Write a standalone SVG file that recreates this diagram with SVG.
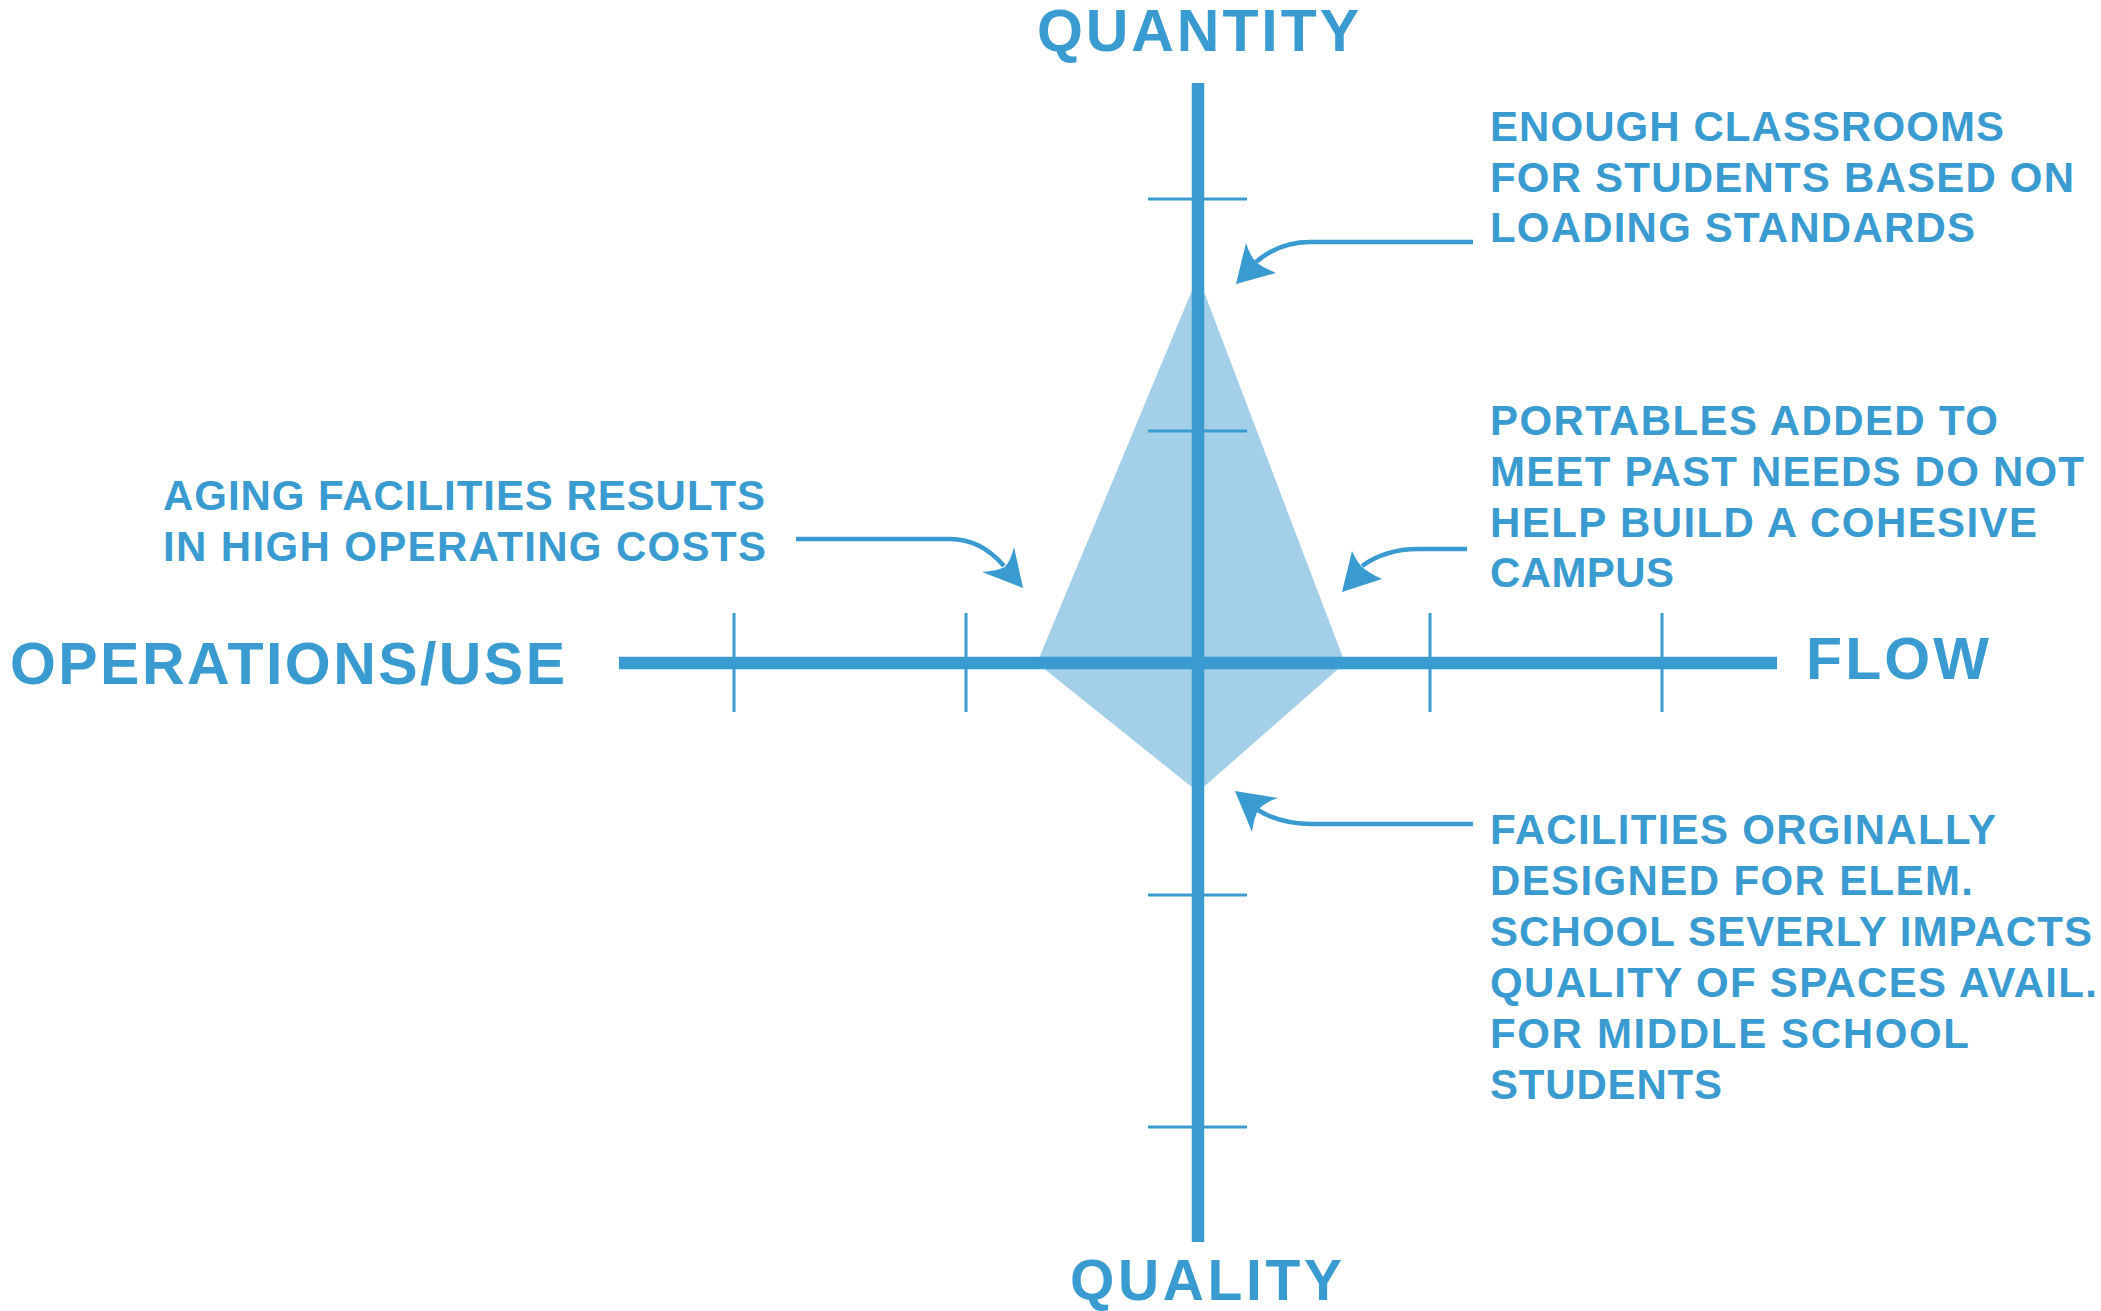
<svg xmlns="http://www.w3.org/2000/svg" width="2101" height="1311" viewBox="0 0 2101 1311">
<style>
.t{font-family:"Liberation Sans",Arial,sans-serif;font-weight:bold;fill:#399bd0}
.big{font-size:59px}
.sm{font-size:42px}
.axis{stroke:#399bd0;stroke-width:12.5;fill:none}
.tick{stroke:#399bd0;stroke-width:3;fill:none}
.ln{stroke:#399bd0;stroke-width:4.5;fill:none}
.hd{fill:#399bd0;stroke:none}
</style>
<rect width="2101" height="1311" fill="#ffffff"/>
<g id="shape">
<polygon points="1198,276 1345,663 1198,792 1037,663" fill="#a3cfe9"/>
</g>
<g id="axes">
<line class="axis" x1="619" y1="663" x2="1777" y2="663"/>
<line class="axis" x1="1198" y1="83" x2="1198" y2="1242"/>
<g id="ticks">
<line class="tick" x1="734" y1="613" x2="734" y2="712"/>
<line class="tick" x1="966" y1="613" x2="966" y2="712"/>
<line class="tick" x1="1430" y1="613" x2="1430" y2="712"/>
<line class="tick" x1="1662" y1="613" x2="1662" y2="712"/>
<line class="tick" x1="1148" y1="199" x2="1247" y2="199"/>
<line class="tick" x1="1148" y1="431" x2="1247" y2="431"/>
<line class="tick" x1="1148" y1="895" x2="1247" y2="895"/>
<line class="tick" x1="1148" y1="1127" x2="1247" y2="1127"/>
</g>
</g>
<g id="axis-labels">
<g id="quantity"><text class="t big" x="1037" y="51" textLength="322">QUANTITY</text></g>
<g id="quality"><text class="t" style="font-size:57px" x="1070" y="1300" textLength="272">QUALITY</text></g>
<g id="operations"><text class="t big" x="10" y="684" textLength="555">OPERATIONS/USE</text></g>
<g id="flow"><text class="t big" x="1806" y="679" textLength="183">FLOW</text></g>
</g>
<g id="note-quantity">
<text class="t sm" x="1490" y="141" textLength="514">ENOUGH CLASSROOMS</text>
<text class="t sm" x="1490" y="192" textLength="584">FOR STUDENTS BASED ON</text>
<text class="t sm" x="1490" y="242" textLength="485">LOADING STANDARDS</text>
</g>
<g id="note-flow">
<text class="t sm" x="1490" y="435" textLength="508">PORTABLES ADDED TO</text>
<text class="t sm" x="1490" y="486" textLength="594">MEET PAST NEEDS DO NOT</text>
<text class="t sm" x="1490" y="537" textLength="547">HELP BUILD A COHESIVE</text>
<text class="t sm" x="1490" y="587" textLength="184">CAMPUS</text>
</g>
<g id="note-operations">
<text class="t sm" x="163" y="510" textLength="602">AGING FACILITIES RESULTS</text>
<text class="t sm" x="163" y="561" textLength="603">IN HIGH OPERATING COSTS</text>
</g>
<g id="note-quality">
<text class="t sm" x="1490" y="844" textLength="506">FACILITIES ORGINALLY</text>
<text class="t sm" x="1490" y="895" textLength="483">DESIGNED FOR ELEM.</text>
<text class="t sm" x="1490" y="946" textLength="602">SCHOOL SEVERLY IMPACTS</text>
<text class="t sm" x="1490" y="997" textLength="607">QUALITY OF SPACES AVAIL.</text>
<text class="t sm" x="1490" y="1048" textLength="479">FOR MIDDLE SCHOOL</text>
<text class="t sm" x="1490" y="1099" textLength="232">STUDENTS</text>
</g>
<g id="connectors">
<path class="ln" d="M1473,242 H1310 C1288,242 1270,250 1256,262"/>
<path class="hd" d="M1236,284 L1246,243 Q1251,258 1257,263 Q1264,268 1276,273 Z"/>
<path class="ln" d="M1467,549 H1418 C1396,549 1376,556 1362,566"/>
<path class="hd" d="M1342,592 L1352,551 Q1357,562 1362,567 Q1369,573 1382,579 Z"/>
<path class="ln" d="M1473,824 H1312 C1290,824 1272,819 1258,810"/>
<path class="hd" d="M1235,791 L1278,798 Q1265,802 1258,810 Q1254,818 1252,832 Z"/>
<path class="ln" d="M796,539 H950 C975,539 992,552 1004,566"/>
<path class="hd" d="M1023,588 L982,572 Q997,571 1005,567 Q1011,560 1014,547 Z"/>
</g>
</svg>
